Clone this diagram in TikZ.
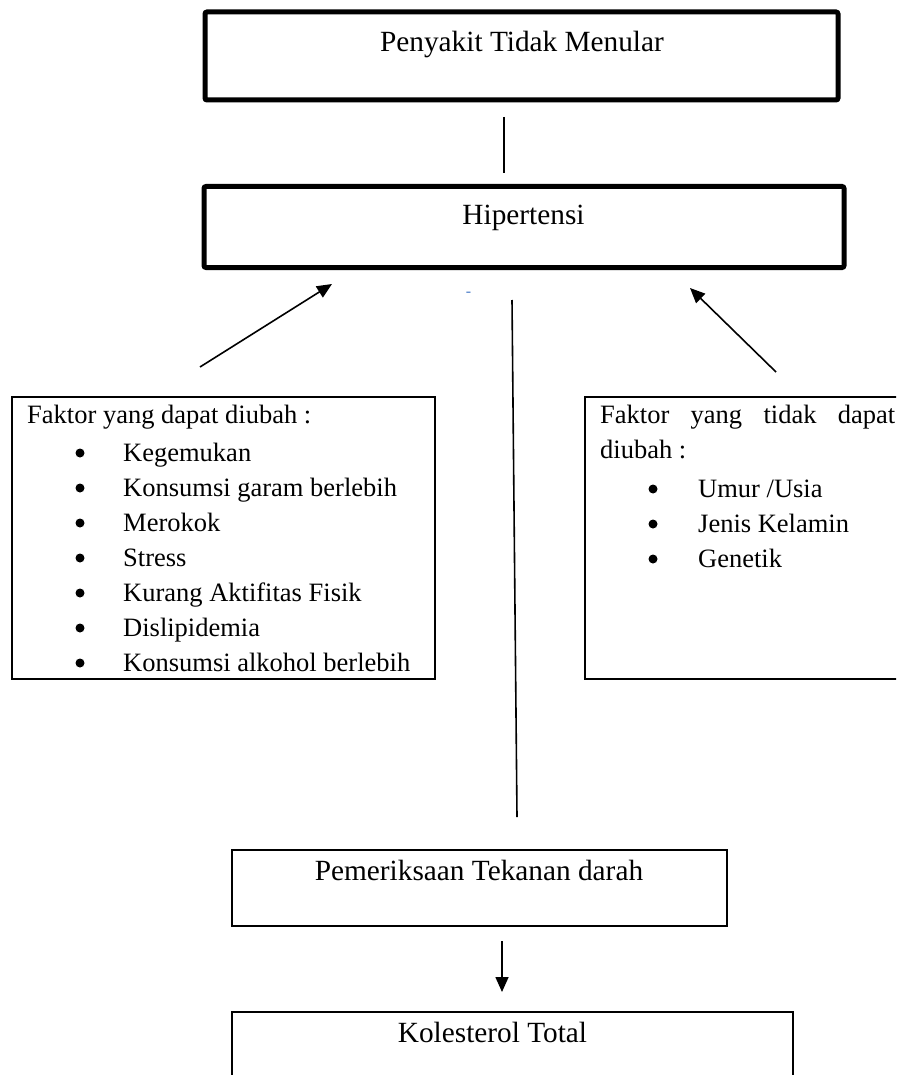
\documentclass[tikz,border=0pt]{standalone}
\usepackage{fontspec}
\setmainfont{Liberation Serif}
\usetikzlibrary{arrows.meta}
\definecolor{dashblue}{RGB}{74,124,200}
\begin{document}
\begin{tikzpicture}[x=1pt,y=-1pt,
    every node/.style={font=\fontsize{26.5}{35}\selectfont,inner sep=0pt},
    bigtxt/.style={font=\fontsize{29.3}{35}\selectfont},
    thickbox/.style={draw,line width=5pt,rounded corners=2pt},
    thinbox/.style={draw,line width=2.4pt},
    dot/.style={circle,fill,minimum size=9pt},
    conn/.style={line width=1.6pt},
    arr/.style={line width=1.6pt,-{Triangle[length=15pt,width=13pt]}}]
    \useasboundingbox (0,0) rectangle (896,1075);
    \clip (0,0) rectangle (896,1075);
    \node[thickbox,minimum width=633pt,minimum height=88pt] (ptm) at (521.5,56) {};
    \node[bigtxt,anchor=base] (ptmtxt) at (522,52) {Penyakit Tidak Menular};
    \node[thickbox,minimum width=640pt,minimum height=81pt] (hip) at (524,227) {};
    \node[bigtxt,anchor=base] (hiptxt) at (523.5,225) {Hipertensi};
    \coordinate (ptmlow) at (504,117);
    \coordinate (hipup) at (504,173);
    \draw[conn] (ptmlow) -- (hipup);
    \node[text=dashblue,font=\fontsize{16}{18}\selectfont] (stray) at (468.5,294) {-};
    \coordinate (ltail) at (200,367);
    \coordinate (lhead) at (332,284);
    \draw[arr] (ltail) -- (lhead);
    \coordinate (rtail) at (776,372);
    \coordinate (rhead) at (690,288);
    \draw[arr] (rtail) -- (rhead);
    \coordinate (midtop) at (512,300);
    \coordinate (midlow) at (517,817);
    \draw[conn] (midtop) -- (midlow);
    \node[thinbox,minimum width=423pt,minimum height=282pt] (fdu) at (223.5,538) {};
    \node[anchor=base west] (fdutitle) at (27,423) {Faktor yang dapat diubah :};
    \foreach \txt [count=\i] in {Kegemukan,Konsumsi garam berlebih,Merokok,Stress,Kurang Aktifitas Fisik,Dislipidemia,Konsumsi alkohol berlebih} {
        \node[dot] (ldot\i) at (80,{453+35*(\i-1)}) {};
        \node[anchor=base west] (litem\i) at (123,{461+35*(\i-1)}) {\txt};
    }
    \node[thinbox,minimum width=330pt,minimum height=282pt] (ftdu) at (750,538) {};
    \node[anchor=base west] (ftdutitle) at (600,423) {\makebox[295pt][s]{Faktor yang tidak dapat}};
    \node[anchor=base west] (ftdutitleb) at (600,458) {diubah :};
    \foreach \txt [count=\i] in {Umur /Usia,Jenis Kelamin,Genetik} {
        \node[dot] (rdot\i) at (653,{489+35*(\i-1)}) {};
        \node[anchor=base west] (ritem\i) at (698,{497+35*(\i-1)}) {\txt};
    }
    \node[thinbox,minimum width=495pt,minimum height=76pt] (ptd) at (479.5,888) {};
    \node[bigtxt,anchor=base] (ptdtxt) at (479,880) {Pemeriksaan Tekanan darah};
    \coordinate (ptdlow) at (502,941);
    \coordinate (kolup) at (502,992);
    \draw[arr] (ptdlow) -- (kolup);
    \node[thinbox,minimum width=561pt,minimum height=120pt] (kol) at (512.5,1072) {};
    \node[bigtxt,anchor=base] (koltxt) at (492.5,1042) {Kolesterol Total};
\end{tikzpicture}
\end{document}
